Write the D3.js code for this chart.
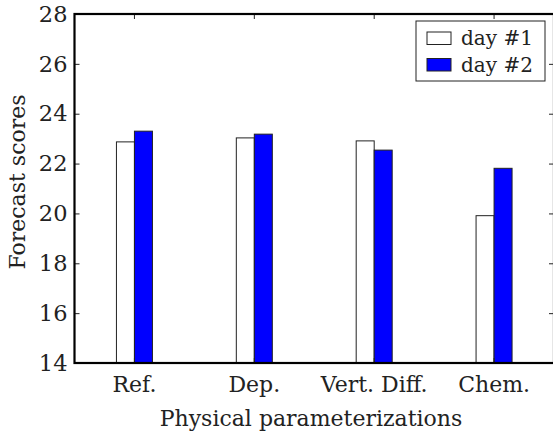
<!DOCTYPE html>
<html><head><meta charset="utf-8">
<script src="https://cdn.jsdelivr.net/npm/d3@7"></script>
<style>body{margin:0;background:#fff}svg{display:block}text{font-family:"DejaVu Serif",serif;fill:#222}</style>
</head><body><svg id="c" width="553" height="436"></svg>
<script>
const categories = ["Ref.", "Dep.", "Vert. Diff.", "Chem."];
const seriesNames = ["day #1", "day #2"];
const day1 = [22.87, 23.03, 22.91, 19.91];
const day2 = [23.30, 23.18, 22.54, 21.81];
const yTicks = [14, 16, 18, 20, 22, 24, 26, 28];
const colors = ["#ffffff", "#0000ff"];

const svg = d3.select("#c");
const L = 74.5, R = 554, T = 14, B = 363;
const x = d3.scaleBand().domain(categories).range([L, R]);
const y = d3.scaleLinear().domain([14, 28]).range([B, T]);
const bw = 18;
const series = [day1, day2];

series.forEach((vals, s) => {
  svg.append("g").selectAll("rect").data(vals).join("rect")
    .attr("x", (d, i) => x(categories[i]) + x.bandwidth() / 2 - bw + s * bw)
    .attr("y", d => y(d))
    .attr("width", bw)
    .attr("height", d => y(14) - y(d))
    .attr("fill", colors[s])
    .attr("stroke", "#222").attr("stroke-width", 1);
});

// left axis
const ya = svg.append("g").attr("transform", `translate(${L},0)`)
  .call(d3.axisLeft(y).tickValues(yTicks).tickSize(-5).tickPadding(7).tickFormat(d3.format("d")));
ya.selectAll("text").style("font-size", "22.5px").attr("fill", "#222");
ya.select(".domain").remove();
// right ticks
const yr = svg.append("g").attr("transform", `translate(${R},0)`)
  .call(d3.axisRight(y).tickValues(yTicks).tickSize(-5).tickFormat(""));
yr.select(".domain").remove();
// bottom axis
const xa = svg.append("g").attr("transform", `translate(0,${B})`)
  .call(d3.axisBottom(x).tickSize(-5).tickPadding(13));
xa.selectAll("text").style("font-size", "22px").attr("fill", "#222");
xa.select(".domain").remove();
const xt = svg.append("g").attr("transform", `translate(0,${T})`)
  .call(d3.axisTop(x).tickSize(-5).tickFormat(""));
xt.select(".domain").remove();

svg.selectAll(".tick line").attr("stroke", "#222");

// frame
svg.append("rect").attr("x", L).attr("y", T).attr("width", R - L).attr("height", B - T)
  .attr("fill", "none").attr("stroke", "#000").attr("stroke-width", 2.2);

// labels
svg.append("text").attr("x", 311).attr("y", 426).attr("text-anchor", "middle")
  .style("font-size", "22px").text("Physical parameterizations");
svg.append("text").attr("transform", `translate(25,182) rotate(-90)`)
  .attr("text-anchor", "middle").style("font-size", "22px").text("Forecast scores");

// legend
const lg = svg.append("g");
lg.append("rect").attr("x", 416).attr("y", 21).attr("width", 129).attr("height", 60)
  .attr("fill", "#fff").attr("stroke", "#222").attr("stroke-width", 1);
seriesNames.forEach((n, i) => {
  lg.append("rect").attr("x", 427).attr("y", 32 + i * 26.5).attr("width", 24).attr("height", 12.5)
    .attr("fill", colors[i]).attr("stroke", "#222").attr("stroke-width", 1);
  lg.append("text").attr("x", 461).attr("y", 45 + i * 26.5).style("font-size", "20px").text(n);
});
</script></body></html>
